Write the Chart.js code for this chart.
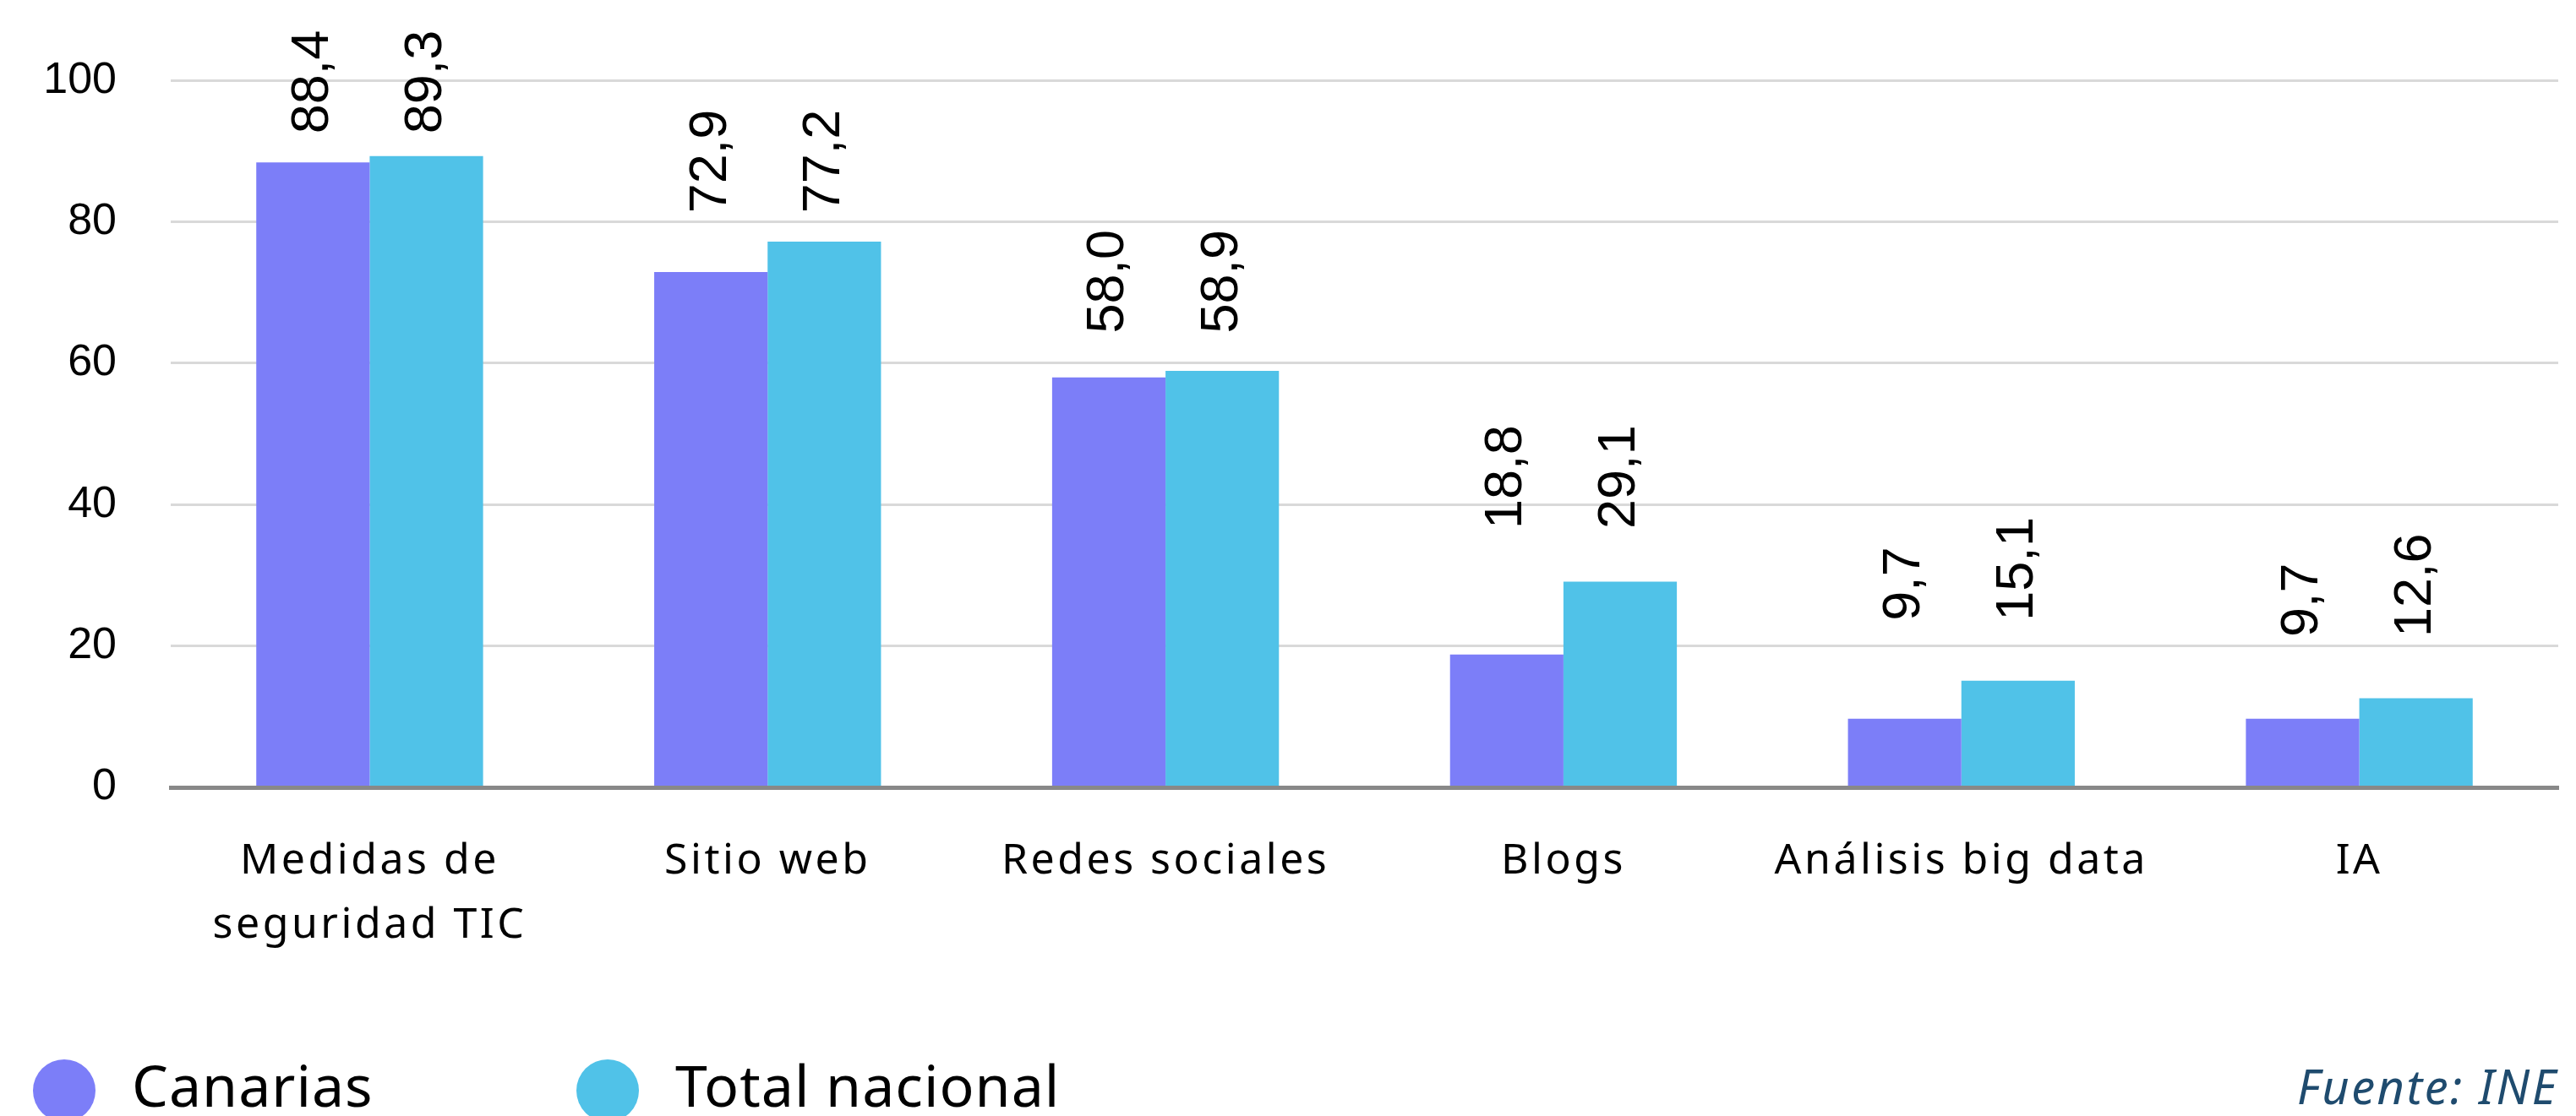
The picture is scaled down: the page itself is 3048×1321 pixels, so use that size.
<!DOCTYPE html>
<html>
<head>
<meta charset="utf-8">
<script src="https://cdn.jsdelivr.net/npm/chart.js@4/dist/chart.umd.min.js"></script>
<style>
  html, body { margin: 0; padding: 0; background: #fff; }
  canvas { display: block; }
</style>
</head>
<body>
<canvas id="chart" width="3048" height="1321"></canvas>
<script>
// Chart data
const categories = [['Medidas de', 'seguridad TIC'], 'Sitio web', 'Redes sociales', 'Blogs', 'Análisis big data', 'IA'];
const canarias = [88.4, 72.9, 58.0, 18.8, 9.7, 9.7];
const totalNacional = [89.3, 77.2, 58.9, 29.1, 15.1, 12.6];
const seriesNames = ['Canarias', 'Total nacional'];
const seriesColors = ['#7c7ef8', '#50c2e8'];
const yTicks = [0, 20, 40, 60, 80, 100];
const sourceText = 'Fuente: INE';

function formatValue(v) {
  return v.toFixed(1).replace('.', ',');
}

// Rotated value labels above each group of bars, plus legend and source
const valueLabels = {
  id: 'valueLabels',
  afterDatasetsDraw(chart) {
    const ctx = chart.ctx;
    const yScale = chart.scales.y;
    ctx.save();
    ctx.font = '63px "Liberation Sans", Arial, sans-serif';
    ctx.fillStyle = '#000';
    ctx.textAlign = 'left';
    ctx.textBaseline = 'middle';
    categories.forEach(function(cat, i) {
      const groupMax = Math.max(canarias[i], totalNacional[i]);
      const gap = 80 - 0.6 * groupMax;
      const yPos = yScale.getPixelForValue(groupMax) - gap;
      chart.data.datasets.forEach(function(ds, d) {
        const bar = chart.getDatasetMeta(d).data[i];
        ctx.save();
        ctx.translate(bar.x, yPos);
        ctx.rotate(-Math.PI / 2);
        ctx.fillText(formatValue(ds.data[i]), 0, 0);
        ctx.restore();
      });
    });
    ctx.restore();
    // spacing for the category labels drawn after this
    ctx.letterSpacing = '3.5px';
  },
  afterDraw(chart) {
    const ctx = chart.ctx;
    const h = chart.height;
    const cy = h - 30;
    ctx.save();
    ctx.letterSpacing = '1px';
    ctx.font = '68px "Noto Sans", sans-serif';
    ctx.textBaseline = 'middle';
    ctx.textAlign = 'left';
    const itemX = [76, 719];
    seriesNames.forEach(function(name, i) {
      ctx.fillStyle = seriesColors[i];
      ctx.beginPath();
      ctx.arc(itemX[i], cy, 37, 0, Math.PI * 2);
      ctx.fill();
      ctx.fillStyle = '#000';
      ctx.fillText(name, itemX[i] + 80, cy);
    });
    // Source
    ctx.letterSpacing = '2.5px';
    ctx.font = 'italic 56px "Noto Sans", sans-serif';
    ctx.fillStyle = '#1f4b6e';
    ctx.textAlign = 'right';
    ctx.fillText(sourceText, chart.chartArea.right, cy);
    ctx.restore();
    ctx.letterSpacing = '0px';
  }
};

new Chart(document.getElementById('chart'), {
  type: 'bar',
  data: {
    labels: categories,
    datasets: [
      {
        label: seriesNames[0],
        data: canarias,
        backgroundColor: seriesColors[0],
        borderWidth: 0,
        categoryPercentage: 0.57,
        barPercentage: 1.0
      },
      {
        label: seriesNames[1],
        data: totalNacional,
        backgroundColor: seriesColors[1],
        borderWidth: 0,
        categoryPercentage: 0.57,
        barPercentage: 1.0
      }
    ]
  },
  options: {
    responsive: false,
    devicePixelRatio: 1,
    animation: false,
    layout: {
      padding: { top: 84, right: 21, bottom: 189, left: 0 }
    },
    plugins: {
      legend: { display: false },
      tooltip: { enabled: false }
    },
    scales: {
      x: {
        grid: { display: false, drawTicks: false },
        border: { display: true, color: '#888888', width: 5, z: 1 },
        ticks: {
          z: 1,
          color: '#000',
          padding: 50,
          maxRotation: 0,
          autoSkip: false,
          font: { family: '"Noto Sans", sans-serif', size: 50, lineHeight: 1.52 }
        },
        afterFit: function(scale) { scale.height = 200; }
      },
      y: {
        min: 0,
        max: 100,
        afterBuildTicks: function(scale) {
          scale.ticks = yTicks.map(v => ({ value: v }));
        },
        grid: {
          drawTicks: false,
          lineWidth: 3,
          color: ctx => ctx.tick && ctx.tick.value === 0 ? 'rgba(0,0,0,0)' : '#d9d9d9'
        },
        border: { display: false },
        ticks: {
          color: '#000',
          padding: 64,
          font: { family: '"Liberation Sans", Arial, sans-serif', size: 52 }
        },
        afterFit: function(scale) { scale.width = 202; }
      }
    }
  },
  plugins: [valueLabels]
});
</script>
</body>
</html>
